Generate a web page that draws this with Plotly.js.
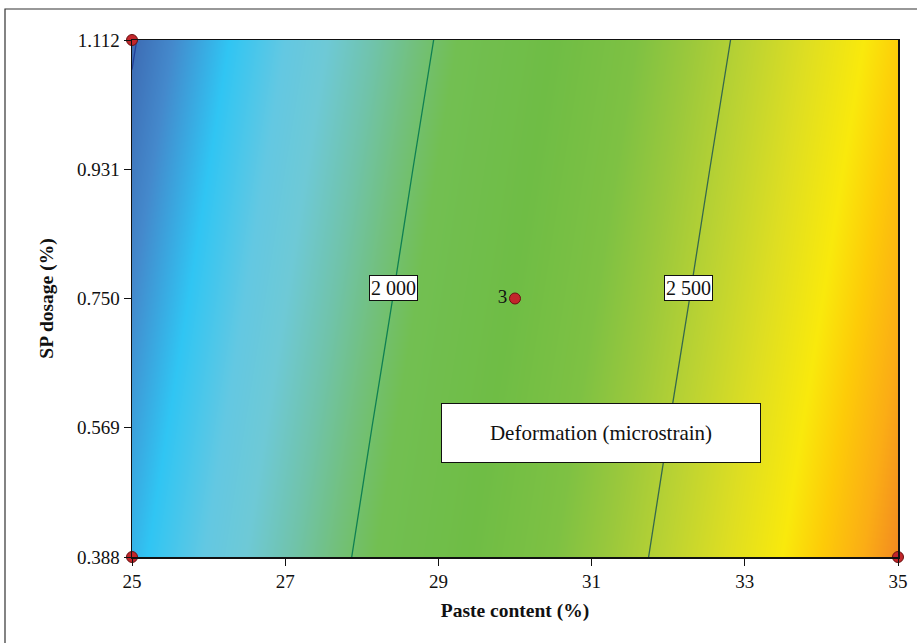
<!DOCTYPE html>
<html>
<head>
<meta charset="utf-8">
<script src="https://cdn.plot.ly/plotly-3.0.1.min.js"></script>
<style>html,body{margin:0;padding:0;background:#fff;}#chart{width:917px;height:643px;}</style>
</head>
<body>
<div id="chart"></div>
<script>
// Paste content (%) grid
const pasteContent = [25, 26, 27, 28, 29, 30, 31, 32, 33, 34, 35];
// SP dosage (%) grid
const spDosage = [0.388, 0.569, 0.750, 0.931, 1.112];
// Deformation (microstrain), one row per SP dosage
const deformation = [
  [1630, 1759, 1888, 2017, 2146, 2275, 2404, 2533, 2662, 2791, 2920],
  [1596, 1725, 1854, 1983, 2112, 2241, 2370, 2499, 2628, 2757, 2886],
  [1561, 1690, 1819, 1948, 2077, 2206, 2335, 2464, 2593, 2722, 2851],
  [1527, 1656, 1785, 1914, 2043, 2172, 2301, 2430, 2559, 2688, 2817],
  [1492, 1621, 1750, 1879, 2008, 2137, 2266, 2395, 2524, 2653, 2782]
];
// contour levels drawn
const contourLevels = [1500, 2000, 2500];
const contourLabels = ['', '2 000', '2 500'];
// design points
const designX = [25, 25, 35, 30];
const designY = [1.112, 0.388, 0.388, 0.750];
const designText = ['', '', '', '3'];
// ticks
const xTicks = [25, 27, 29, 31, 33, 35];
const yTicks = [0.388, 0.569, 0.750, 0.931, 1.112];
const yTickText = ['0.388', '0.569', '0.750', '0.931', '1.112'];

const zMin = 1492, zMax = 2920;
function zp(v){ return (v - zMin) / (zMax - zMin); }
const colorscale = [
  [zp(1492), '#3d6bb3'],
  [zp(1560), '#4489cc'],
  [zp(1655), '#30c5f3'],
  [zp(1750), '#63c8e2'],
  [zp(1820), '#6ec9d6'],
  [zp(1900), '#70c3aa'],
  [zp(1970), '#72c07c'],
  [zp(2040), '#72bf52'],
  [zp(2200), '#6fbd45'],
  [zp(2340), '#7ec143'],
  [zp(2430), '#9ac83c'],
  [zp(2530), '#bcd332'],
  [zp(2630), '#dede22'],
  [zp(2725), '#f9e90c'],
  [zp(2790), '#fdcb08'],
  [zp(2860), '#fbad15'],
  [zp(2920), '#f28a20']
];

const serif = 'Liberation Serif, Times New Roman, serif';
const lineColors = ['#22409a', '#0f7f52', '#35684c'];

const traces = [{
  type: 'heatmap',
  x: pasteContent, y: spDosage, z: deformation,
  zsmooth: 'best', colorscale: colorscale, zmin: zMin, zmax: zMax,
  showscale: false, hoverinfo: 'skip'
}];
contourLevels.forEach((lv, i) => {
  traces.push({
    type: 'contour',
    x: pasteContent, y: spDosage, z: deformation,
    autocontour: false,
    contours: {start: lv, end: lv, size: 100, coloring: 'none'},
    line: {color: lineColors[i], width: 1.3},
    showscale: false, hoverinfo: 'skip'
  });
});
traces.push({
  type: 'scatter', mode: 'markers+text',
  x: designX, y: designY, text: designText,
  textposition: 'middle left',
  textfont: {family: serif, size: 19, color: '#111'},
  marker: {symbol: 'circle', size: 11, color: '#c2262b', line: {color: '#6a1212', width: 1}},
  cliponaxis: false, hoverinfo: 'skip'
});

const plotW = 917 - 132 - 19, plotH = 643 - 40 - 86;
const annotations = [
  {x: 28.42, y: 0.765, text: contourLabels[1]},
  {x: 32.27, y: 0.765, text: contourLabels[2]}
].map(a => Object.assign(a, {
  xref: 'x', yref: 'y', showarrow: false,
  font: {family: serif, size: 20, color: '#111'},
  bgcolor: '#fff', bordercolor: '#111', borderwidth: 1, borderpad: 1
}));
annotations.push({
  x: 31.12, y: 0.5617, xref: 'x', yref: 'y', showarrow: false,
  text: 'Deformation (microstrain)',
  font: {family: serif, size: 21, color: '#111'},
  bgcolor: '#fff', bordercolor: '#111', borderwidth: 1,
  width: 316, height: 56, borderpad: 1
});

const layout = {
  width: 917, height: 643,
  margin: {l: 132, r: 19, t: 40, b: 86},
  paper_bgcolor: '#fff', plot_bgcolor: '#fff',
  showlegend: false,
  font: {family: serif, size: 19, color: '#111'},
  xaxis: {
    range: [25, 35], tickvals: xTicks, ticks: 'outside', ticklen: 7, tickcolor: '#111',
    showline: true, linecolor: '#111', linewidth: 1.5, mirror: true,
    showgrid: false, zeroline: false,
    tickfont: {family: serif, size: 19, color: '#111'},
    title: {text: 'Paste content (%)', standoff: 12, font: {family: serif, size: 19.5, weight: 'bold', color: '#111'}}
  },
  yaxis: {
    range: [0.388, 1.112], tickvals: yTicks, ticktext: yTickText, ticks: 'outside', ticklen: 7, tickcolor: '#111',
    showline: true, linecolor: '#111', linewidth: 1.5, mirror: true,
    showgrid: false, zeroline: false,
    tickfont: {family: serif, size: 19, color: '#111'},
    title: {text: 'SP dosage (%)', standoff: 18, font: {family: serif, size: 19.5, weight: 'bold', color: '#111'}}
  },
  shapes: [{
    type: 'rect', xref: 'paper', yref: 'paper',
    x0: (5 - 132) / plotW, x1: (1100 - 132) / plotW,
    y0: (557 - 800) / plotH, y1: (557 - 9) / plotH,
    line: {color: '#333', width: 1.2}, fillcolor: 'rgba(0,0,0,0)', layer: 'below'
  }],
  annotations: annotations
};

Plotly.newPlot('chart', traces, layout, {displayModeBar: false, staticPlot: true});
</script>
</body>
</html>
